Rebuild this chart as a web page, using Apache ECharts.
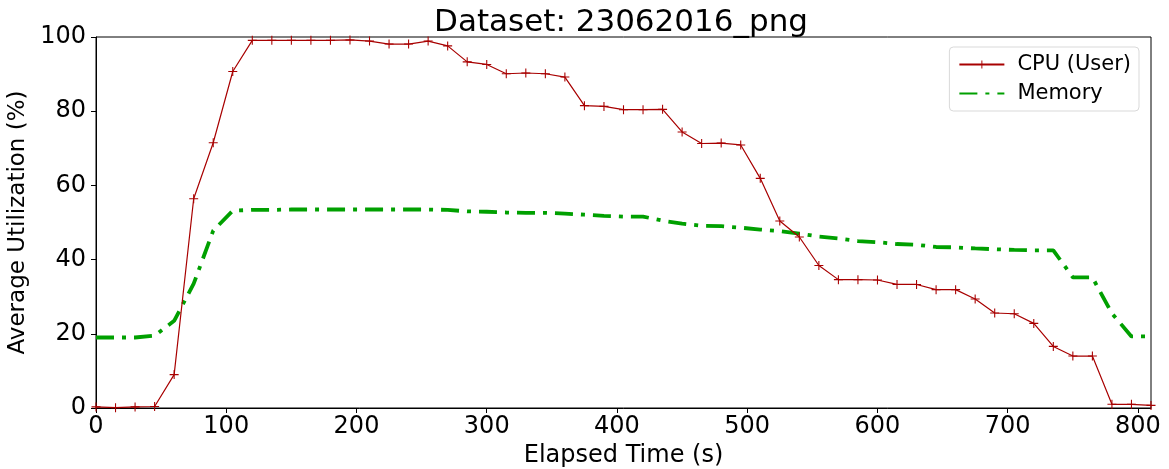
<!DOCTYPE html>
<html>
	<head>
		<meta charset="utf-8">
		<title>Dataset: 23062016_png</title>
		<script src="https://cdn.jsdelivr.net/npm/echarts@6/dist/echarts.min.js" type="text/javascript" charset="utf-8"></script>
	</head>
	<style type="text/css">
		html,
		body {
			margin: 0;
			padding: 0;
			background: #fff;
		}

		#chart {
			width: 1169px;
			height: 469px;
		}
	</style>

	<body>
		<div id="chart"></div>

		<script>
			// 采样时间 (s)
			var times = [0, 15, 30, 45, 60, 75, 90, 105, 120, 135, 150, 165, 180, 195, 210, 225, 240, 255, 270, 285,
				300, 315, 330, 345, 360, 375, 390, 405, 420, 435, 450, 465, 480, 495, 510, 525, 540, 555, 570, 585,
				600, 615, 630, 645, 660, 675, 690, 705, 720, 735, 750, 765, 780, 795, 810
			];
			// CPU (User) %
			var cpu_list = [0.3, 0.1, 0.3, 0.4, 9.0, 56.4, 71.5, 90.7, 99.1, 99.1, 99.1, 99.1, 99.1, 99.2, 98.9, 98.1, 98.1, 98.9, 97.6, 93.3,
				92.6, 90.1, 90.3, 90.1, 89.2, 81.5, 81.3, 80.4, 80.4, 80.5, 74.4, 71.3, 71.4, 70.9, 61.9, 50.4, 46.1, 38.4, 34.6, 34.6,
				34.5, 33.3, 33.3, 31.9, 31.9, 29.4, 25.6, 25.4, 22.8, 16.6, 14.0, 14.0, 1.0, 1.0, 0.7
			];
			// Memory %
			var mem_list = [19.0, 19.0, 19.0, 19.5, 23.5, 33.5, 47.8, 53.2, 53.4, 53.4, 53.5, 53.5, 53.5, 53.5, 53.5, 53.5, 53.5, 53.5, 53.4, 53.0,
				52.9, 52.7, 52.6, 52.6, 52.4, 52.1, 51.8, 51.6, 51.6, 50.5, 49.7, 49.1, 49.0, 48.6, 48.1, 47.7, 47.0, 46.2, 45.7, 45.0,
				44.7, 44.2, 44.0, 43.4, 43.3, 43.0, 42.8, 42.6, 42.5, 42.5, 35.2, 35.2, 25.5, 19.3, 19.3
			];

			function pairs(xs, ys) {
				var out = [];
				for (var i = 0; i < xs.length; i++) {
					out.push([xs[i], ys[i]]);
				}
				return out;
			}

			var font = 'DejaVu Sans';
			var chart = echarts.init(document.getElementById('chart'), null, {
				renderer: 'canvas'
			});

			chart.setOption({
				animation: false,
				backgroundColor: '#fff',
				title: {
					text: 'Dataset: 23062016_png',
					left: 616,
					textAlign: 'center',
					top: 2,
					textStyle: {
						fontFamily: font,
						fontSize: 31,
						fontWeight: 'normal',
						color: '#000'
					}
				},
				legend: {
					right: 30,
					top: 47,
					orient: 'vertical',
					itemWidth: 45,
					itemHeight: 10,
					itemGap: 8,
					padding: [7, 8, 7, 9],
					borderColor: '#d9d9d9',
					borderWidth: 1,
					borderRadius: 4,
					backgroundColor: '#fff',
					textStyle: {
						fontFamily: font,
						fontSize: 21,
						color: '#000',
						padding: [0, 0, 0, 8]
					},
					data: ['CPU (User)', {
						name: 'Memory',
						itemStyle: {
							opacity: 0
						}
					}]
				},
				grid: {
					left: 96,
					right: 18,
					top: 37,
					bottom: 61,
					show: true,
					borderColor: '#000',
					borderWidth: 1,
					outerBoundsMode: 'none'
				},
				xAxis: {
					type: 'value',
					min: 0,
					max: 810,
					interval: 100,
					name: 'Elapsed Time (s)',
					nameLocation: 'middle',
					nameGap: 33,
					nameTextStyle: {
						fontFamily: font,
						fontSize: 24,
						color: '#000'
					},
					axisLine: {
						lineStyle: {
							color: '#000',
							width: 1
						}
					},
					axisTick: {
						show: true,
						length: 5,
						lineStyle: {
							color: '#000'
						}
					},
					axisLabel: {
						showMaxLabel: false,
						margin: 7,
						fontFamily: font,
						fontSize: 24,
						color: '#000'
					},
					splitLine: {
						show: false
					}
				},
				yAxis: {
					type: 'value',
					min: 0,
					max: 100,
					interval: 20,
					name: 'Average Utilization (%)',
					nameLocation: 'middle',
					nameGap: 64,
					nameTextStyle: {
						fontFamily: font,
						fontSize: 23,
						color: '#000'
					},
					axisLine: {
						show: true,
						lineStyle: {
							color: '#000',
							width: 1
						}
					},
					axisTick: {
						show: true,
						length: 5,
						lineStyle: {
							color: '#000'
						}
					},
					axisLabel: {
						margin: 10,
						fontFamily: font,
						fontSize: 24,
						color: '#000'
					},
					splitLine: {
						show: false
					}
				},
				series: [{
						name: 'CPU (User)',
						type: 'line',
						data: pairs(times, cpu_list),
						symbol: 'path://M0,4.4h10v1.2h-10z M4.4,0h1.2v10h-1.2z',
						symbolSize: 9,
						showSymbol: true,
						itemStyle: {
							color: '#a80000'
						},
						lineStyle: {
							color: '#a80000',
							width: 1.2
						},
						z: 3
					},
					{
						name: 'Memory',
						type: 'line',
						data: pairs(times, mem_list),
						symbol: 'none',
						itemStyle: {
							color: '#00a000'
						},
						lineStyle: {
							color: '#00a000',
							width: 3.8,
							type: [18, 8, 4, 8],
							cap: 'butt'
						},
						z: 2
					}
				]
			});
		</script>
	</body>
</html>
